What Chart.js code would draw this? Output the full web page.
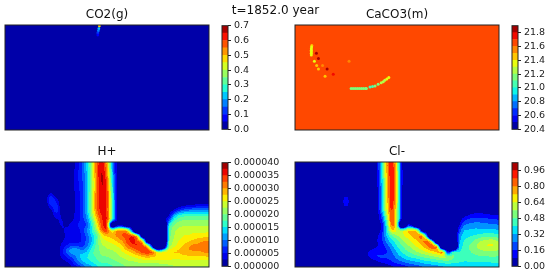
<!DOCTYPE html>
<html>
<head>
<meta charset="utf-8">
<script src="https://cdn.jsdelivr.net/npm/chart.js@4"></script>
<style>
html, body { margin: 0; background: #fff; width: 550px; height: 275px; overflow: hidden; }
canvas { position: absolute; filter: blur(0.35px); }
#stamp { position: absolute; left: 200px; width: 151px; top: 3px; text-align: center; font: 12px "DejaVu Sans"; color: #111; filter: blur(0.35px); }
</style>
</head>
<body>
<div id="stamp">t=1852.0 year</div>
<script>
// contour levels and colorbar ticks
const co2Levels = [0, 0.05, 0.1, 0.15, 0.2, 0.25, 0.3, 0.35, 0.4, 0.45, 0.5, 0.55, 0.6, 0.65, 0.7];
const co2Ticks = [0, 0.1, 0.2, 0.3, 0.4, 0.5, 0.6, 0.7];
const co2TickLabels = ['0.0', '0.1', '0.2', '0.3', '0.4', '0.5', '0.6', '0.7'];
const caco3Levels = [20.4, 20.5, 20.6, 20.7, 20.8, 20.9, 21.0, 21.1, 21.2, 21.3, 21.4, 21.5, 21.6, 21.7, 21.8, 21.9];
const caco3Ticks = [20.4, 20.6, 20.8, 21.0, 21.2, 21.4, 21.6, 21.8];
const caco3TickLabels = ['20.4', '20.6', '20.8', '21.0', '21.2', '21.4', '21.6', '21.8'];
const hLevels = [0, 2.5, 5, 7.5, 10, 12.5, 15, 17.5, 20, 22.5, 25, 27.5, 30, 32.5, 35, 37.5, 40]; // x 1e-6
const hTicks = [0, 5, 10, 15, 20, 25, 30, 35, 40];
const hTickLabels = ['0.000000', '0.000005', '0.000010', '0.000015', '0.000020', '0.000025', '0.000030', '0.000035', '0.000040'];
const clLevels = [0, 0.08, 0.16, 0.24, 0.32, 0.4, 0.48, 0.56, 0.64, 0.72, 0.8, 0.88, 0.96, 1.04];
const clTicks = [0, 0.16, 0.32, 0.48, 0.64, 0.8, 0.96];
const clTickLabels = ['0.00', '0.16', '0.32', '0.48', '0.64', '0.80', '0.96'];

// CO2(g): uniform field plus the few cells that stand out
const co2Base = 0;
const co2X = [18.5, 18.4, 18.3, 18.2, 18.2];
const co2Y = [0.2, 0.7, 1.1, 1.5, 1.9];
const co2V = [0.47, 0.22, 0.17, 0.12, 0.07];

// CaCO3(m): uniform field plus the precipitate specks and arcs
const caco3Base = 21.65;
const caco3X = [3.3, 3.25, 3.2, 3.2, 3.2, 3.2, 3.2, 4.2, 4.6, 6.3, 7.5, 3.8, 4.25, 4.6, 5.4, 5.9, 10.6,
  11.0, 11.4, 11.8, 12.2, 12.6, 13.0, 13.4, 13.8, 14.0,
  14.7, 15.2, 15.7, 16.3, 16.9, 17.3, 17.6, 18.0, 18.4];
const caco3Y = [3.9, 4.2, 4.5, 4.8, 5.1, 5.4, 5.7, 5.4, 6.4, 8.4, 9.4, 6.9, 7.7, 8.4, 7.7, 9.75, 6.9,
  12.1, 12.1, 12.1, 12.1, 12.1, 12.1, 12.1, 12.1, 12.1,
  11.8, 11.7, 11.6, 11.3, 11.0, 10.8, 10.5, 10.3, 10.0];
const caco3V = [21.45, 21.35, 21.35, 21.35, 21.35, 21.35, 21.35, 21.85, 21.85, 21.85, 21.75, 21.35, 21.45, 21.45, 21.55, 21.45, 21.55,
  21.15, 21.15, 21.15, 21.15, 21.15, 21.15, 21.15, 21.15, 21.15,
  21.05, 21.05, 21.15, 21.15, 21.25, 21.25, 21.25, 21.35, 21.35];

// H+, 41 columns by 21 rows, top row first (x 1e-6)
// values below zero sit just outside the sharp front: they only place its contour between two nodes
const hRows = [
  [0,0,0,0,0,0,0,0,0,0, 0,0,0,1,3,7,13,21,33,37, 30,12,1,0,0,0,0,0,0,0, 0,0,0,0,0,0,0,0,0,0,0],
  [0,0,0,0,0,0,0,0,0,0, 0,0,0,1,3,7,13,21,34,38, 30,12,1,0,0,0,0,0,0,0, 0,0,0,0,0,0,0,0,0,0,0],
  [0,0,0,0,0,0,0,0,0,0, 0,0,0,1,4,7,12,21,33,39, 32,13,1,0,0,0,0,0,0,0, 0,0,0,0,0,0,0,0,0,0,0],
  [0,0,0,0,0,0,0,0,0,0, 0,0,0,1,4,7,12,21,33,39, 33,14,1,0,0,0,0,0,0,0, 0,0,0,0,0,0,0,0,0,0,0],
  [0,0,0,0,0,0,0,0,0,0, 0,0,0,1,4,6,12,21,32,39, 34,15,1,0,0,0,0,0,0,0, 0,0,0,0,0,0,0,0,0,0,0],
  [0,0,0,0,0,0,0,0,0,0, 0,0,0,1,4,6,12,21,32,38, 35,16,1,0,0,0,0,0,0,0, 0,0,0,0,0,0,0,0,0,0,0],
  [0,0,0,0,0,0,0,0,0,3, 0,0,0,1,3,6,12,22,33,37, 36,17,1,0,0,0,0,0,0,0, 0,0,0,0,0,0,0,0,0,0,0],
  [0,0,0,0,0,0,0,0,0,9, 3,0,0,1,3,6,12,22,33,37, 36,18,1,0,0,0,0,0,0,0, 0,0,0,0,0,0,0,0,0,0,0],
  [0,0,0,0,0,0,0,0,0,7, 7,0,0,1,3,6,12,22,33,37, 36,18,1,0,0,0,0,0,0,0, 0,0,0,0,0,0,1,1,2,2,2],
  [0,0,0,0,0,0,0,0,0,2, 8,1,0,1,3,6,12,22,33,37, 35,18,1,0,0,0,0,0,0,0, 0,0,0,1,4,7,8,9,9,9,9],
  [0,0,0,0,0,0,0,0,0,0, 5,2,1,2,3,6,11,21,31,36, 36,18,1,0,0,0,0,0,0,0, 0,0,0,9,15,16,16,16,16,16,16],
  [0,0,0,0,0,0,0,0,0,0, 2,3,1,2,3,6,9,18,28,35, 37,18,1,0,0,0,0,0,0,0, 0,0,5,16,19,20,20,20,20,20,20],
  [0,0,0,0,0,0,0,0,0,0, 1,3,2,3,5,6,7,15,25,35, 36,-19,-1,-1,-12,0,0,0,0,0, 0,-25,15,20,22,22,22,22,22,22,22],
  [0,0,0,0,0,0,0,0,0,0, 0,2,3,3,3,6,10,15,22,33, 36,24,32,32,30,2.5,-39,0,0,0, 0,-30,17,22,23,24,24,24,24,24,24],
  [0,0,0,0,0,0,0,0,0,0, 0,1,3,3,3,5,8,13,17,26, 28,29,31,33,34,36,30,-16,0,0, 0,-30,18,22,24,25,25,26,26,26,27],
  [0,0,0,0,0,0,0,0,0,0, 0,2,3,3,3,5,8,12,18,24, 25,26,28,30,34,37,33,30,-16,0, 0,-35,19,23,25,26,27,28,29,30,30],
  [0,0,0,0,0,0,0,0,0,0, 0,3,5,8,8,6,9,14,19,22, 23,24,25,27,32,34,36,34,30,-5, -43,-20,20,24,26,28,30,31,31,32,32],
  [0,0,0,0,0,0,0,0,0,0, 0,3,9,12,13,11,12,17,19,21, 22,22,23,25,27,29,32,35,36,34, 22,25,27,28,28,29,30,30,30,31,31],
  [0,0,0,0,0,0,0,0,0,0, 0,3,5,8,10,14,15,17,18,20, 20,21,22,23,24,25,26,28,29,28, 28,28,27,26,26,27,27,27,27,27,28],
  [0,0,0,0,0,0,0,0,0,0, 0,1,2,4,9,12,14,15,17,18, 18,19,20,21,22,22,23,23,23,23, 23,24,24,24,24,24,24,24,24,24,24],
  [0,0,0,0,0,0,0,0,0,0, 0,0,1,2,4,7,10,12,14,16, 16,17,18,19,20,20,20,21,21,21, 21,21,21,22,22,22,22,22,22,22,22]
];

// Cl-, same grid
const clRows = [
  [0,0,0,0,0,0,0,0,0,0, 0,0,0,0,0,0,.04,.38,.78,.98, .62,.04,0,0,0,0,0,0,0,0, 0,0,0,0,0,0,0,0,0,0,0],
  [0,0,0,0,0,0,0,0,0,0, 0,0,0,0,0,0,.04,.38,.78,1, .62,.04,0,0,0,0,0,0,0,0, 0,0,0,0,0,0,0,0,0,0,0],
  [0,0,0,0,0,0,0,0,0,0, 0,0,0,0,0,0,.03,.36,.76,1, .64,.04,0,0,0,0,0,0,0,0, 0,0,0,0,0,0,0,0,0,0,0],
  [0,0,0,0,0,0,0,0,0,0, 0,0,0,0,0,0,.03,.34,.74,1, .66,.04,0,0,0,0,0,0,0,0, 0,0,0,0,0,0,0,0,0,0,0],
  [0,0,0,0,0,0,0,0,0,0, 0,0,0,0,0,0,.03,.32,.72,1, .66,.04,0,0,0,0,0,0,0,0, 0,0,0,0,0,0,0,0,0,0,0],
  [0,0,0,0,0,0,0,0,0,0, 0,0,0,0,0,0,.02,.3,.72,1, .66,.03,0,0,0,0,0,0,0,0, 0,0,0,0,0,0,0,0,0,0,0],
  [0,0,0,0,0,0,0,0,0,0, 0,0,0,0,0,0,.02,.3,.7,1, .66,.03,0,0,0,0,0,0,0,0, 0,0,0,0,0,0,0,0,0,0,0],
  [0,0,0,0,0,0,0,0,0,0, .16,0,0,0,0,0,.01,.3,.7,1, .64,.02,0,0,0,0,0,0,0,0, 0,0,0,0,0,0,0,0,0,0,0],
  [0,0,0,0,0,0,0,0,0,0, .16,0,0,0,0,0,.01,.3,.68,.98, .64,.02,0,0,0,0,0,0,0,0, 0,0,0,0,0,0,0,0,0,0,0],
  [0,0,0,0,0,0,0,0,0,0, 0,0,0,0,0,0,0,.3,.68,.95, .62,.01,0,0,0,0,0,0,0,0, 0,0,0,0,0,0,0,0,0,0,0],
  [0,0,0,0,0,0,0,0,0,0, 0,0,0,0,0,0,0,.2,.6,.95, .62,.01,0,0,0,0,0,0,0,0, 0,0,0,.03,.06,.1,.1,.1,.08,.06,.06],
  [0,0,0,0,0,0,0,0,0,0, 0,0,0,0,0,0,0,.14,.5,.94, .62,.01,0,0,0,0,0,0,0,0, 0,0,0,.12,.18,.2,.2,.2,.18,.18,.16],
  [0,0,0,0,0,0,0,0,0,0, 0,0,0,0,0,0,0,.08,.4,.92, .6,-.73,.08,0,-.54,0,0,0,0,0, 0,0,.02,.24,.26,.28,.28,.27,.26,.26,.24],
  [0,0,0,0,0,0,0,0,0,0, 0,0,0,0,0,0,0,.1,.38,.75, .64,.62,.72,.8,.7,-.26,0,0,0,0, 0,-.4,.14,.32,.33,.34,.34,.34,.34,.34,.32],
  [0,0,0,0,0,0,0,0,0,0, 0,0,0,0,0,0,.06,.14,.34,.48, .56,.62,.68,.74,.8,.88,.08,-1.6,0,0, 0,-.4,.24,.36,.38,.4,.42,.44,.44,.44,.42],
  [0,0,0,0,0,0,0,0,0,0, 0,0,0,0,0,0,.07,.14,.28,.38, .46,.54,.6,.66,.72,.8,.92,.5,-1,0, 0,-.4,.26,.4,.44,.48,.54,.58,.6,.6,.54],
  [0,0,0,0,0,0,0,0,0,0, 0,0,0,0,0,.02,.07,.1,.2,.3, .4,.48,.54,.6,.66,.72,.8,.92,.8,-1.15, 0,-1.6,.3,.42,.48,.52,.6,.65,.66,.66,.6],
  [0,0,0,0,0,0,0,0,0,0, 0,0,0,0,.06,.11,.12,.12,.14,.24, .34,.42,.48,.52,.58,.62,.68,.72,.76,.9, -.13,.5,.38,.44,.47,.5,.53,.55,.56,.56,.54],
  [0,0,0,0,0,0,0,0,0,0, 0,0,0,0,.06,.12,.18,.18,.18,.2, .28,.34,.4,.44,.46,.5,.52,.55,.58,.62, .58,.5,.44,.44,.45,.46,.47,.48,.48,.48,.48],
  [0,0,0,0,0,0,0,0,0,0, 0,0,0,0,0,.02,.06,.1,.12,.16, .2,.24,.28,.3,.32,.36,.38,.4,.42,.44, .46,.44,.42,.4,.4,.4,.4,.4,.4,.41,.41],
  [0,0,0,0,0,0,0,0,0,0, 0,0,0,0,0,0,0,0,.02,.06, .08,.1,.13,.17,.2,.22,.24,.26,.28,.3, .3,.3,.32,.32,.33,.34,.35,.35,.36,.36,.36]
];

const fontName = '"DejaVu Sans"';
const inkColor = '#222';

// matplotlib's jet, piecewise
const jetR = [[0, 0], [0.35, 0], [0.66, 1], [0.89, 1], [1, 0.5]];
const jetG = [[0, 0], [0.125, 0], [0.375, 1], [0.64, 1], [0.91, 0], [1, 0]];
const jetB = [[0, 0.5], [0.11, 1], [0.34, 1], [0.65, 0], [1, 0]];

function channel(stops, t) {
    for (let i = 1; i < stops.length; i++) {
        if (t <= stops[i][0]) {
            const a = stops[i - 1], b = stops[i];
            return a[1] + (b[1] - a[1]) * (t - a[0]) / (b[0] - a[0]);
        }
    }
    return stops[stops.length - 1][1];
}

function jet(t) {
    const c = [jetR, jetG, jetB].map(s => Math.round(channel(s, t) * 255));
    return `rgb(${c[0]},${c[1]},${c[2]})`;
}

// each band takes the colour of its mid value, as contourf does
function bandColors(levels) {
    const n = levels.length - 1;
    return Array.from({ length: n }, (_, i) => jet((i + 0.5) / n));
}

function bandIndex(levels, v) {
    let i = 0;
    while (i < levels.length - 2 && v >= levels[i + 1]) i++;
    return i;
}

function addCanvas(left, top, width, height) {
    const c = document.createElement('canvas');
    c.width = width;
    c.height = height;
    c.style.left = left + 'px';
    c.style.top = top + 'px';
    document.body.appendChild(c);
    return c.getContext('2d');
}

const framePlugin = {
    id: 'frame',
    afterDraw(chart) {
        const a = chart.chartArea, ctx = chart.ctx;
        ctx.save();
        ctx.strokeStyle = inkColor;
        ctx.lineWidth = 1;
        ctx.strokeRect(a.left, a.top, a.right - a.left, a.bottom - a.top);
        ctx.restore();
    }
};

function fieldAt(rows, gx, gy) {
    const x = Math.max(0, Math.min(gx, rows[0].length - 1.001));
    const y = Math.max(0, Math.min(gy, rows.length - 1.001));
    const c0 = Math.floor(x), r0 = Math.floor(y), fx = x - c0, fy = y - r0;
    const top = rows[r0][c0] * (1 - fx) + rows[r0][c0 + 1] * fx;
    const bot = rows[r0 + 1][c0] * (1 - fx) + rows[r0 + 1][c0 + 1] * fx;
    return top * (1 - fy) + bot * fy;
}

// filled contours between the grid nodes, one band colour per level pair
function contourPlugin(rows, levels) {
    const colors = bandColors(levels);
    const spread = 1.2; // pixels, rounds off the kinks at the cell edges
    return {
        id: 'contour',
        beforeDatasetsDraw(chart) {
            const a = chart.chartArea, ctx = chart.ctx;
            const sx = chart.scales.x, sy = chart.scales.y;
            const corners = [[-spread, -spread], [spread, -spread], [-spread, spread], [spread, spread]];
            ctx.save();
            for (let py = Math.floor(a.top); py < a.bottom; py++) {
                for (let px = Math.floor(a.left); px < a.right; px++) {
                    let sum = 0;
                    corners.forEach(d => {
                        sum += fieldAt(rows, sx.getValueForPixel(px + 0.5 + d[0]), sy.getValueForPixel(py + 0.5 + d[1]));
                    });
                    ctx.fillStyle = colors[bandIndex(levels, sum / 4)];
                    ctx.fillRect(px, py, 1, 1);
                }
            }
            ctx.restore();
        }
    };
}

function flatPlugin(base, levels) {
    const color = bandColors(levels)[bandIndex(levels, base)];
    return {
        id: 'flat',
        beforeDatasetsDraw(chart) {
            const a = chart.chartArea;
            chart.ctx.fillStyle = color;
            chart.ctx.fillRect(a.left, a.top, a.right - a.left, a.bottom - a.top);
        }
    };
}

function createPanel(left, top, title, points, colors, radius, fill) {
    const ctx = addCanvas(left, top, 208, 131);
    new Chart(ctx, {
        type: 'scatter',
        data: {
            datasets: [{
                data: points,
                pointStyle: 'circle',
                pointRadius: radius,
                pointBorderWidth: 0,
                pointBackgroundColor: colors
            }]
        },
        options: {
            responsive: false,
            animation: false,
            layout: { padding: { left: 2, right: 2, top: 0, bottom: 1 }, autoPadding: false },
            plugins: {
                legend: { display: false },
                tooltip: { enabled: false },
                title: {
                    display: true,
                    text: title,
                    color: '#111',
                    font: { family: fontName, size: 12, weight: 'normal' },
                    padding: { top: 8, bottom: 2.6 }
                }
            },
            scales: {
                x: { type: 'linear', min: 0, max: 40, display: false },
                y: { type: 'linear', min: 0, max: 20, reverse: true, display: false }
            }
        },
        plugins: [fill, framePlugin]
    });
}

function createColorbar(left, top, width, levels, ticks, tickLabels) {
    const ctx = addCanvas(left, top - 8, width, 105 + 16);
    const colors = bandColors(levels);
    const barWidth = 6;
    new Chart(ctx, {
        type: 'bar',
        data: {
            labels: [''],
            datasets: colors.map((color, i) => ({
                data: [[levels[i], levels[i + 1]]],
                backgroundColor: color,
                barPercentage: 1,
                categoryPercentage: 1
            }))
        },
        options: {
            responsive: false,
            animation: false,
            layout: { padding: { left: 1, right: 0, top: 8, bottom: 8 }, autoPadding: false },
            plugins: { legend: { display: false }, tooltip: { enabled: false } },
            scales: {
                x: { stacked: true, display: false },
                y: {
                    position: 'right',
                    min: levels[0],
                    max: levels[levels.length - 1],
                    afterFit(axis) { axis.width = width - 1 - barWidth; },
                    afterBuildTicks(axis) { axis.ticks = ticks.map(value => ({ value })); },
                    grid: { drawOnChartArea: false, drawTicks: true, tickLength: 3, color: inkColor },
                    border: { display: false },
                    ticks: {
                        autoSkip: false,
                        maxRotation: 0,
                        padding: 3,
                        color: inkColor,
                        font: { family: fontName, size: 9.5 },
                        callback: (value, i) => tickLabels[i]
                    }
                }
            }
        },
        plugins: [framePlugin]
    });
}

function gridPoints(rows) {
    const pts = [];
    rows.forEach((row, y) => row.forEach((v, x) => pts.push({ x, y, v })));
    return pts;
}

function specks(xs, ys, vs) {
    return xs.map((x, i) => ({ x, y: ys[i], v: vs[i] }));
}

const co2Colors = co2V.map(v => bandColors(co2Levels)[bandIndex(co2Levels, v)]);
const caco3Colors = caco3V.map(v => bandColors(caco3Levels)[bandIndex(caco3Levels, v)]);

createPanel(3, 0, 'CO2(g)', specks(co2X, co2Y, co2V), co2Colors, 1.4, flatPlugin(co2Base, co2Levels));
createPanel(293, 0, 'CaCO3(m)', specks(caco3X, caco3Y, caco3V), caco3Colors, 1.5, flatPlugin(caco3Base, caco3Levels));
createPanel(3, 137, 'H+', gridPoints(hRows), 'transparent', 0, contourPlugin(hRows, hLevels));
createPanel(293, 137, 'Cl-', gridPoints(clRows), 'transparent', 0, contourPlugin(clRows, clLevels));

createColorbar(221, 25, 64, co2Levels, co2Ticks, co2TickLabels);
createColorbar(511, 25, 39, caco3Levels, caco3Ticks, caco3TickLabels);
createColorbar(221, 162, 64, hLevels, hTicks, hTickLabels);
createColorbar(511, 162, 39, clLevels, clTicks, clTickLabels);
</script>
</body>
</html>
